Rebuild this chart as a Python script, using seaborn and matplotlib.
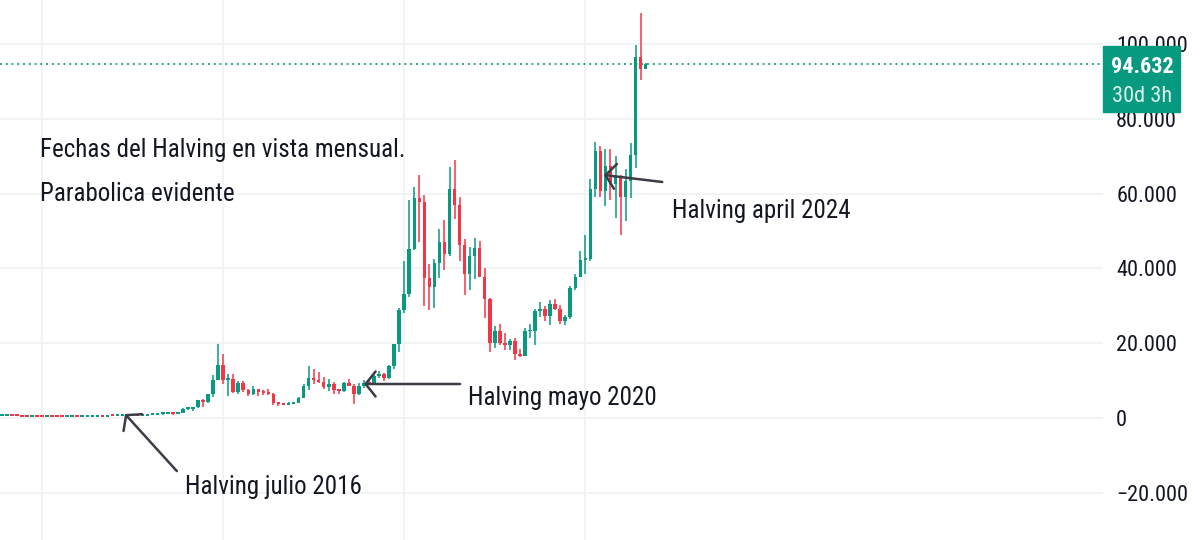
import numpy as np
import pandas as pd
import matplotlib
matplotlib.use("Agg")
import matplotlib.pyplot as plt
from matplotlib import font_manager
from matplotlib.patches import Rectangle
import seaborn as sns

# ---- monthly BTC candles, Apr 2014 -> Jan 2025 (USD) ----
opens = [455, 445, 630, 640, 585, 480, 386, 338, 378,
         320, 217, 254, 244, 236, 230, 263, 284, 230, 236, 314, 377,
         430, 368, 437, 416, 448, 531, 673, 624, 575, 609, 699, 745,
         964, 970, 1190, 1080, 1350, 2300, 2480, 2875, 4700, 4340, 6470, 10230,
         14160, 10220, 10390, 6970, 9240, 7490, 6390, 7730, 7030, 6630, 6370, 4020,
         3740, 3460, 3850, 4110, 5350, 8570, 10820, 10080, 9600, 8290, 9150, 7570,
         7190, 9350, 8540, 6410, 8630, 9450, 9140, 11340, 11650, 10780, 13800, 19700,
         28990, 33110, 45240, 58800, 57700, 37300, 35040, 41460, 47100, 43790, 61300, 57000,
         46300, 38480, 43190, 45540, 37710, 31790, 19940, 23300, 20050, 19430, 20500, 17170,
         16550, 23140, 23150, 28480, 29250, 27220, 30480, 29230, 25940, 26970, 34660, 37720,
         42280, 42580, 61130, 71290, 60670, 67490, 62680, 64620, 58970, 63330, 70220, 96400,
         93430]
highs = [540, 630, 680, 650, 600, 490, 415, 460, 385,
         320, 265, 300, 261, 248, 268, 318, 285, 245, 334, 500, 465,
         460, 440, 440, 468, 550, 780, 700, 630, 618, 720, 756, 975,
         1150, 1200, 1300, 1450, 2800, 3000, 2990, 4750, 5000, 6470, 11400, 19800,
         17200, 11800, 11700, 9800, 10000, 7760, 8500, 7760, 7400, 7680, 6590, 4240,
         4110, 4200, 4100, 5600, 9000, 13880, 13200, 12300, 10900, 10350, 9500, 7750,
         9580, 10500, 9190, 9480, 10070, 10430, 11440, 12470, 12080, 14100, 19900, 29300,
         41950, 58350, 61790, 64850, 59500, 41300, 42400, 50500, 52900, 67000, 69000, 59050,
         47990, 45800, 48190, 47450, 40000, 31990, 24670, 25200, 22800, 21100, 21480, 18400,
         23960, 25250, 29200, 31000, 29820, 31430, 31800, 30200, 27490, 35200, 38450, 44700,
         48970, 64000, 73800, 72800, 71950, 71950, 70000, 65100, 66500, 73600, 99600, 108300,
         94900]
lows = [340, 420, 555, 570, 450, 350, 280, 315, 305,
        170, 212, 236, 215, 227, 220, 254, 198, 225, 236, 300, 350,
        350, 365, 404, 415, 438, 510, 600, 470, 570, 604, 684, 745,
        750, 940, 900, 1060, 1350, 2070, 1840, 2700, 2970, 4110, 5500, 10230,
        9200, 5950, 6600, 6440, 7050, 5750, 6110, 5880, 6100, 6200, 3560, 3150,
        3400, 3380, 3730, 4080, 5330, 7450, 9100, 9400, 7750, 7300, 6500, 6440,
        6870, 8450, 3850, 6150, 8120, 8830, 8970, 10600, 9850, 10400, 13200, 17600,
        28130, 32380, 44950, 47000, 30000, 28800, 29300, 37330, 39600, 43300, 53250, 42000,
        32900, 34300, 37200, 37700, 26700, 17600, 18780, 19600, 18150, 18200, 15480, 16300,
        16500, 21350, 19570, 26940, 25870, 24800, 28860, 25170, 24900, 26560, 34100, 37640,
        38550, 41880, 59000, 59200, 56550, 58400, 53500, 49000, 52550, 58900, 66800, 90500,
        93300]
closes = [445, 630, 640, 585, 480, 386, 338, 378, 320,
          217, 254, 244, 236, 230, 263, 284, 230, 236, 314, 377, 430,
          368, 437, 416, 448, 531, 673, 624, 575, 609, 699, 745, 964,
          970, 1190, 1080, 1350, 2300, 2480, 2875, 4700, 4340, 6470, 10230, 14160,
          10220, 10390, 6970, 9240, 7490, 6390, 7730, 7030, 6630, 6370, 4020, 3740,
          3460, 3850, 4110, 5350, 8570, 10820, 10080, 9600, 8290, 9150, 7570, 7190,
          9350, 8540, 6410, 8630, 9450, 9140, 11340, 11650, 10780, 13800, 19700, 28990,
          33110, 45240, 58800, 57700, 37300, 35040, 41460, 47100, 43790, 61300, 57000, 46300,
          38480, 43190, 45540, 37710, 31790, 19940, 23300, 20050, 19430, 20500, 17170, 16550,
          23140, 23150, 28480, 29250, 27220, 30480, 29230, 25940, 26970, 34660, 37720, 42280,
          42580, 61130, 71290, 60670, 67490, 62680, 64620, 58970, 63330, 70220, 96400, 93430,
          94632]

last_price = 94632
price_ticks = [-20000, 0, 20000, 40000, 60000, 80000, 100000]
year_grid = ["2015-01", "2018-01", "2021-01", "2024-01"]

GREEN = "#089981"
RED = "#F23645"
INK = "#131722"
ARROW = "#3a3d45"

sns.set_theme(style="white")
installed = {f.name for f in font_manager.fontManager.ttflist}
narrow = [n for n in ["Liberation Sans Narrow", "DejaVu Sans Condensed", "Roboto Condensed",
                      "Open Sans Condensed", "Noto Sans Condensed"] if n in installed]
if narrow:
    FONT, SIZE, TICK = narrow[0], 18, 16
else:
    FONT, SIZE, TICK = "Lato", 17, 15.5
plt.rcParams["font.family"] = [FONT, "DejaVu Sans"]

months = pd.period_range("2014-04", "2025-01", freq="M")
df = pd.DataFrame({"open": opens, "high": highs, "low": lows, "close": closes},
                  index=months)


def midx(p):
    p = pd.Period(p, freq="M")
    return (p.year - 2015) * 12 + p.month - 1


df["x"] = [midx(p) for p in df.index]
df["up"] = df["close"] >= df["open"]
df["bottom"] = df[["open", "close"]].min(axis=1)
df["body"] = np.maximum((df["close"] - df["open"]).abs(), 520)
df["color"] = np.where(df["up"], GREEN, RED)

fig = plt.figure(figsize=(12, 5.4), dpi=100)
ax = fig.add_axes([0, 0, 1103 / 1200, 1])

# grid
for v in price_ticks:
    ax.axhline(v, color="#eff1f4", lw=1.2, zorder=0)
for g in year_grid:
    ax.axvline(midx(g), color="#eff1f4", lw=1.2, zorder=0)

# candles
ax.vlines(df["x"], df["low"], df["high"], colors=df["color"], lw=1.1, zorder=2)
ax.bar(df["x"], df["body"], bottom=df["bottom"], width=0.7,
       color=df["color"], linewidth=0, zorder=3)

ax.axhline(last_price, color=GREEN, lw=1.3, ls=(0, (1, 2.2)), zorder=1)

ax.set_xlim(-8.35, 210.9)
ax.set_ylim(-32620, 111760)
ax.set_xticks([])
ax.yaxis.tick_right()
ax.set_yticks(price_ticks)
ax.set_yticklabels([("−" if v < 0 else "") + f"{abs(v):,}".replace(",", ".")
                    for v in price_ticks])
ax.tick_params(axis="y", length=0, pad=9.5, labelsize=TICK, labelcolor=INK)
sns.despine(ax=ax, left=True, bottom=True, top=True, right=True)

# notes
ax.text(-0.4, 71700, "Fechas del Halving en vista mensual.", fontsize=SIZE,
        color=INK, va="center", ha="left")
ax.text(-0.4, 59800, "Parabolica evidente", fontsize=SIZE,
        color=INK, va="center", ha="left")

arrow_kw = dict(arrowstyle="->,head_length=0.6,head_width=0.75",
                color=ARROW, lw=1.8, shrinkA=0, shrinkB=0)
ax.annotate("", xy=(16.5, 1070), xytext=(26.8, -14200), arrowprops=arrow_kw, zorder=5)
ax.annotate("", xy=(64.0, 9090), xytext=(83.1, 9090), arrowprops=arrow_kw, zorder=5)
ax.annotate("", xy=(111.7, 64970), xytext=(123.3, 63100), arrowprops=arrow_kw, zorder=5)

label_pos = {"Halving julio 2016": (28.4, -18450),
             "Halving mayo 2020": (84.7, 5350),
             "Halving april 2024": (125.2, 55350)}
for label, (lx, ly) in label_pos.items():
    ax.text(lx, ly, label, fontsize=SIZE, color=INK, va="center", ha="left")

# last-price badge on the price scale
fig.patches.append(Rectangle((1103 / 1200, 1 - 112 / 540), 77 / 1200, 66 / 540,
                             transform=fig.transFigure, color=GREEN, zorder=5))
fig.text(1142 / 1200, 1 - 67 / 540, f"{last_price:,}".replace(",", "."),
         color="white", fontsize=TICK, fontweight="bold", ha="center", va="center", zorder=6)
fig.text(1142 / 1200, 1 - 96 / 540, "30d 3h", color="white", alpha=0.85,
         fontsize=TICK, ha="center", va="center", zorder=6)

fig.savefig("out.png", dpi=100, facecolor="white")
